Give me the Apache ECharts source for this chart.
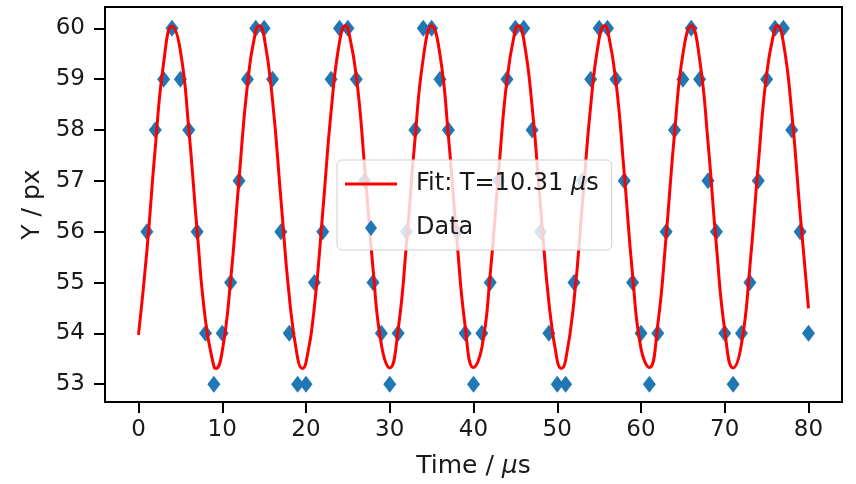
<!DOCTYPE html>
<html>
<head>
<meta charset="utf-8">
<script src="https://cdn.jsdelivr.net/npm/echarts@6/dist/echarts.min.js"></script>
<style>
html, body { margin: 0; padding: 0; background: #fff; }
#chart { width: 856px; height: 484px; }
</style>
</head>
<body>
<div id="chart"></div>
<script>
// measured points (Time / us, Y / px)
var dataT = [1, 2, 3, 4, 5, 6, 7, 8, 9, 10,
    11, 12, 13, 14, 15, 16, 17, 18, 19, 20,
    21, 22, 23, 24, 25, 26, 27, 28, 29, 30,
    31, 32, 33, 34, 35, 36, 37, 38, 39, 40,
    41, 42, 43, 44, 45, 46, 47, 48, 49, 50,
    51, 52, 53, 54, 55, 56, 57, 58, 59, 60,
    61, 62, 63, 64, 65, 66, 67, 68, 69, 70,
    71, 72, 73, 74, 75, 76, 77, 78, 79, 80];
var dataY = [56, 58, 59, 60, 59, 58, 56, 54, 53, 54,
    55, 57, 59, 60, 60, 59, 56, 54, 53, 53,
    55, 56, 59, 60, 60, 59, 57, 55, 54, 53,
    54, 56, 58, 60, 60, 59, 58, 56, 54, 53,
    54, 55, 57, 59, 60, 60, 58, 56, 54, 53,
    53, 55, 57, 59, 60, 60, 59, 57, 55, 54,
    53, 54, 56, 58, 59, 60, 59, 57, 56, 54,
    53, 54, 55, 57, 59, 60, 60, 58, 56, 54];

// fit curve
var fitT = [0, 1, 2, 3, 4, 5, 6, 7, 8, 9, 9.25, 10,
    11, 12, 13, 14, 14.41, 15, 16, 17, 18, 19, 19.56, 20,
    21, 22, 23, 24, 24.72, 25, 26, 27, 28, 29, 30,
    31, 32, 33, 34, 35, 36, 37, 38, 39, 40,
    41, 42, 43, 44, 45, 45.34, 46, 47, 48, 49, 50, 50.49,
    51, 52, 53, 54, 55, 55.65, 56, 57, 58, 59, 60,
    61, 62, 63, 64, 65, 66, 67, 68, 69, 70,
    71, 72, 73, 74, 75, 76, 76.27, 77, 78, 79, 80];
var fitY = [53.97, 55.62, 57.65, 59.32, 60.04, 59.56, 58.03, 56.02, 54.25, 53.35, 53.31, 53.65,
    55.04, 57.02, 58.88, 59.95, 60.05, 59.83, 58.59, 56.65, 54.73, 53.51, 53.31, 53.43,
    54.52, 56.39, 58.37, 59.73, 60.05, 60.00, 59.07, 57.28, 55.28, 53.78, 53.32,
    54.07, 55.77, 57.79, 59.41, 60.05, 59.48, 57.89, 55.88, 54.15, 53.33,
    53.72, 55.17, 57.17, 58.99, 59.98, 60.05, 59.78, 58.46, 56.50, 54.61, 53.46, 53.31,
    53.47, 54.64, 56.54, 58.49, 59.79, 60.05, 59.97, 58.97, 57.14, 55.14, 53.70,
    53.33, 54.17, 55.91, 57.93, 59.49, 60.05, 59.39, 57.76, 55.73, 54.06,
    53.32, 53.79, 55.31, 57.32, 59.10, 60.01, 60.05, 59.72, 58.34, 56.36, 54.49];

var xTicks = [0, 10, 20, 30, 40, 50, 60, 70, 80];
var yTicks = [53, 54, 55, 56, 57, 58, 59, 60];

var fitName = 'Fit: T=10.31 \u03bcs';
var dataName = 'Data';

function pairs(xs, ys){
    var out = [];
    for(var i = 0; i < xs.length; i++){
        out.push([xs[i], ys[i]]);
    }
    return out;
}

var font = 'DejaVu Sans';
var chart = echarts.init(document.getElementById('chart'), null, {renderer: 'canvas'});
var option = {
    animation: false,
    backgroundColor: '#ffffff',
    grid: {
        left: 105,
        right: 14,
        top: 7,
        bottom: 82,
        show: true,
        borderColor: '#000',
        borderWidth: 2,
        backgroundColor: 'transparent'
    },
    xAxis: {
        type: 'value',
        min: -4,
        max: 84,
        name: 'Time / {i|\u03bc}s',
        nameLocation: 'middle',
        nameGap: 52,
        nameTextStyle: {
            fontFamily: font, fontSize: 25, color: '#1a1a1a',
            rich: { i: { fontFamily: font, fontSize: 25, fontStyle: 'italic', color: '#1a1a1a' } }
        },
        axisLine: { show: true, onZero: false, lineStyle: { color: '#000', width: 2 } },
        axisTick: { show: true, length: 11, customValues: xTicks, lineStyle: { color: '#000', width: 2 } },
        axisLabel: { customValues: xTicks, margin: 17, fontFamily: font, fontSize: 23, color: '#1a1a1a' },
        splitLine: { show: false }
    },
    yAxis: {
        type: 'value',
        min: 52.65,
        max: 60.42,
        name: 'Y / px',
        nameLocation: 'middle',
        nameGap: 57,
        nameTextStyle: { fontFamily: font, fontSize: 25, color: '#1a1a1a' },
        axisLine: { show: true, onZero: false, lineStyle: { color: '#000', width: 2 } },
        axisTick: { show: true, length: 11, customValues: yTicks, lineStyle: { color: '#000', width: 2 } },
        axisLabel: { customValues: yTicks, margin: 20, fontFamily: font, fontSize: 23, color: '#1a1a1a' },
        splitLine: { show: false }
    },
    legend: {
        data: [
            { name: fitName, icon: 'path://M0,0 L52,0 L52,3 L0,3 Z' },
            { name: dataName, icon: 'path://M6,0 L12,8 L6,16 L0,8 Z' }
        ],
        orient: 'vertical',
        left: 337,
        top: 160,
        padding: [11, 13, 9, 8],
        itemWidth: 52,
        itemHeight: 16,
        itemGap: 18,
        backgroundColor: 'rgba(255,255,255,0.8)',
        borderColor: '#d0d0d0',
        borderWidth: 1,
        borderRadius: 5,
        formatter: function(name){
            if(name === fitName){
                return 'Fit: T=10.31 {i|\u03bc}s';
            }
            return name;
        },
        textStyle: {
            fontFamily: font, fontSize: 24, color: '#1a1a1a', lineHeight: 26,
            padding: [0, 0, 0, 14],
            rich: { i: { fontFamily: font, fontSize: 24, fontStyle: 'italic', color: '#1a1a1a' } }
        }
    },
    series: [{
        name: dataName,
        type: 'scatter',
        data: pairs(dataT, dataY),
        symbol: 'diamond',
        symbolSize: [13, 17],
        itemStyle: { color: '#1f77b4', opacity: 1 },
        z: 2
    }, {
        name: fitName,
        type: 'line',
        data: pairs(fitT, fitY),
        smooth: true,
        symbol: 'none',
        showSymbol: false,
        itemStyle: { color: '#ff0000' },
        lineStyle: { color: '#ff0000', width: 3 },
        z: 3
    }]
};
chart.setOption(option);
</script>
</body>
</html>
